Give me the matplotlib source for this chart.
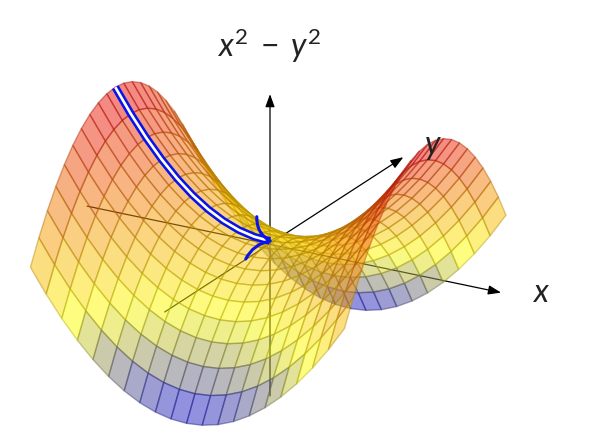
import numpy as np
import matplotlib as mpl
mpl.use('Agg')
import matplotlib.pyplot as plt
from matplotlib.colors import LinearSegmentedColormap
from mpl_toolkits.mplot3d import proj3d

# grid lines of the saddle and the height x^2 (or y^2) on each of them
grid = [-1.0, -0.9, -0.8, -0.7, -0.6, -0.5, -0.4, -0.3, -0.2, -0.1, 0.0,
        0.1, 0.2, 0.3, 0.4, 0.5, 0.6, 0.7, 0.8, 0.9, 1.0]
squares = [1.0, 0.81, 0.64, 0.49, 0.36, 0.25, 0.16, 0.09, 0.04, 0.01, 0.0,
           0.01, 0.04, 0.09, 0.16, 0.25, 0.36, 0.49, 0.64, 0.81, 1.0]

# axis ends as (start, tip)
x_axis = [(-1.19, 0.0, 0.0), (1.47, 0.0, -0.06)]
y_axis = [(0.0, -1.25, 0.0), (0.0, 1.66, -0.05)]
z_axis = [(0.0, 0.0, -1.25), (0.0, 0.0, 1.17)]

plt.rcParams['mathtext.fontset'] = 'custom'
plt.rcParams['mathtext.rm'] = 'Lato'
plt.rcParams['mathtext.it'] = 'Lato:italic'
plt.rcParams['mathtext.fallback'] = 'stixsans'

W = 548
fig = plt.figure(figsize=(6.16, 4.38), dpi=100)
ax = fig.add_axes([-11.4 / 616, -84.4 / 438, W / 616, W / 438], projection='3d',
                  computed_zorder=False)
ax.set_proj_type('persp', focal_length=3)
ax.set_box_aspect((1, 1, 0.76), zoom=1.0)
ax.view_init(elev=21, azim=-62)
ax.set_xlim(-1, 1)
ax.set_ylim(-1, 1)
ax.set_zlim(-1, 1)
ax.set_axis_off()

X, Y = np.meshgrid(grid, grid, indexing='ij')
sq = np.array(squares)
Z = np.subtract.outer(sq, sq)
centre = (Z[:-1, :-1] + Z[1:, :-1] + Z[:-1, 1:] + Z[1:, 1:]) / 4

cmap = LinearSegmentedColormap.from_list(
    'saddle', [(0, '#0000e0'), (1 / 3, '#ffff00'), (1, '#e8000a')])
faces = cmap((centre + 1) / 2)
faces[..., 3] = 0.5
edges = faces.reshape(-1, 4).copy()
edges[:, :3] *= 0.72
edges[:, 3] = 0.45

surf = ax.plot_surface(X, Y, Z, facecolors=faces, rstride=1, cstride=1,
                       shade=False, linewidth=1.0, zorder=2)
surf.set_edgecolor(edges)

# line along y=0 lying on the surface
ridge_x = grid[:11]
ridge_y = [0.0] * 11
ridge_z = squares[:11]
ax.plot(ridge_x, ridge_y, ridge_z, color='#0a14e6', lw=5.6, zorder=3,
        solid_capstyle='butt')
ax.plot(ridge_x, ridge_y, ridge_z, color='white', lw=1.9, zorder=4,
        solid_capstyle='butt')


def to_2d(pt):
    px, py, _ = proj3d.proj_transform(pt[0], pt[1], pt[2], ax.get_proj())
    return px, py


for start, tip in [x_axis, y_axis, z_axis]:
    ax.annotate('', xy=to_2d(tip), xytext=to_2d(start), zorder=1,
                annotation_clip=False,
                arrowprops=dict(arrowstyle='-|>,head_length=0.55,head_width=0.2',
                                color='black', lw=0.9, shrinkA=0, shrinkB=0,
                                mutation_scale=14))

# arrow head of the blue line
tip = to_2d((0.0, 0.0, 0.0))
for off, rad in [((-9.5, 17.5), 0.3), ((-17.5, -13), -0.25)]:
    ax.annotate('', xy=tip, xytext=off, textcoords='offset points', zorder=5,
                annotation_clip=False,
                arrowprops=dict(arrowstyle='-', color='#0a14e6', lw=2.2,
                                shrinkA=0, shrinkB=0,
                                connectionstyle='arc3,rad=%s' % rad))

fig.text(269 / 616, 1 - 46 / 438, r'$x^2\;-\;y^2$', fontsize=23, ha='center',
         va='center', color='#222222')
fig.text(433 / 616, 1 - 147 / 438, r'$y$', fontsize=23, ha='center', va='center',
         color='#222222')
fig.text(541 / 616, 1 - 294 / 438, r'$x$', fontsize=23, ha='center', va='center',
         color='#222222')

plt.savefig('out.png', dpi=100)
